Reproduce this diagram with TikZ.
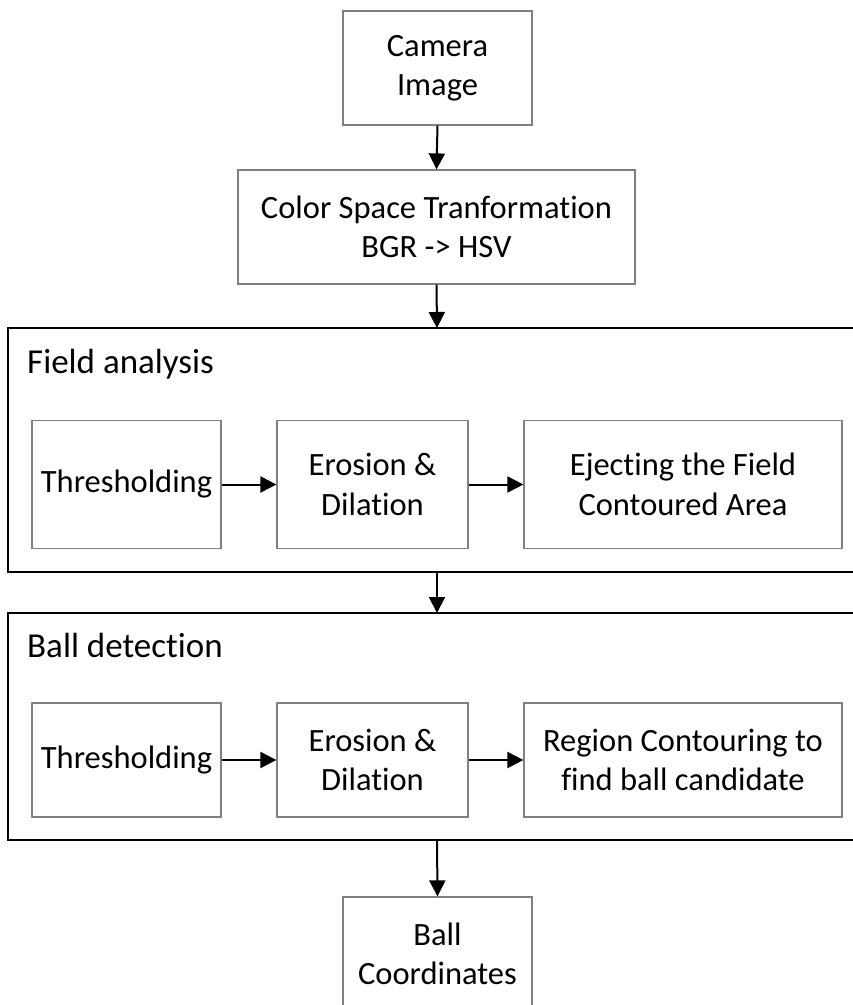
\documentclass[tikz,border=0pt]{standalone}
\usepackage{fontspec}
\setmainfont{Carlito}[Ligatures={NoCommon}]
\usetikzlibrary{arrows.meta}
\begin{document}
\begin{tikzpicture}[x=1pt,y=-1pt,
  box/.style={draw=black!50,line width=1.2pt,rectangle,align=center,inner sep=0pt,
    font=\fontsize{32.5}{39.5}\selectfont},
  frame/.style={draw=black,line width=2pt},
  title/.style={anchor=base west,inner sep=0pt,font=\fontsize{35}{42}\selectfont},
  arr/.style={line width=2pt,-{Triangle[length=16pt,width=16pt]}}]
\useasboundingbox (0,0) rectangle (853,1005);
\fill[white] (0,0) rectangle (853,1005);
% outer frames
\draw[frame] (8,328) rectangle (870,572);
\draw[frame] (8,613) rectangle (870,840);
\coordinate (ftop) at (437,328);
\coordinate (fbot) at (437,572);
\coordinate (btop) at (437,613);
\coordinate (bbot) at (437,840);
\node[title] (ftitle) at (27,373) {Field analysis};
\node[title] (btitle) at (27,657) {Ball detection};
% nodes
\node[box,minimum width=189pt,minimum height=114pt] (cam) at (437.5,68) {Camera\\Image};
\node[box,minimum width=397pt,minimum height=114pt] (col) at (436.5,227) {Color Space Tranformation\\BGR -> HSV};
\node[box,minimum width=189pt,minimum height=128pt] (f1) at (126.5,484.5) {Thresholding};
\node[box,minimum width=191pt,minimum height=128pt] (f2) at (372.5,484.5) {Erosion \&\\Dilation};
\node[box,minimum width=318pt,minimum height=128pt] (f3) at (683,484.5) {Ejecting the Field\\Contoured Area};
\node[box,minimum width=189pt,minimum height=114pt] (b1) at (126.5,760) {Thresholding};
\node[box,minimum width=191pt,minimum height=114pt] (b2) at (372.5,760) {Erosion \&\\Dilation};
\node[box,minimum width=318pt,minimum height=114pt] (b3) at (683,760) {Region Contouring to\\find ball candidate};
\node[box,minimum width=189pt,minimum height=114pt] (bc) at (437.5,954) {Ball\\Coordinates};
% arrows
\draw[arr] (cam.south) -- (col.north);
\draw[arr] (col.south) -- (ftop);
\draw[arr] (f1.east) -- (f2.west);
\draw[arr] (f2.east) -- (f3.west);
\draw[arr] (fbot) -- (btop);
\draw[arr] (b1.east) -- (b2.west);
\draw[arr] (b2.east) -- (b3.west);
\draw[arr] (bbot) -- (bc.north);
\end{tikzpicture}
\end{document}
